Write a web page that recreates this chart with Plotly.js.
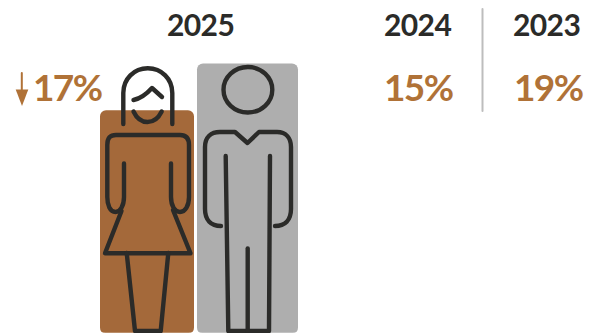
<!DOCTYPE html>
<html>
<head>
<meta charset="utf-8">
<script src="https://cdn.plot.ly/plotly-3.0.1.min.js"></script>
<style>
  html, body { margin: 0; padding: 0; background: #fff; }
  #chart { width: 600px; height: 333px; }
  .shapelayer path { stroke-linecap: round; stroke-linejoin: round; }
  .annotation-text { letter-spacing: -0.6px; }
  .annotation-text[style*="37px"] { letter-spacing: -1.6px; }
</style>
</head>
<body>
<div id="chart"></div>
<script>
// Pay index for 2025: men = 100, women about 17% lower
const groups = ['Women', 'Men'];
const payIndex = [82.6, 100];
const barCenters = [147, 247.5];
const barWidths = [94, 101];
const barColors = ['#A4693A', '#AEAEAE'];

// Gap by year
const years = ['2025', '2024', '2023'];
const gapLabels = ['17%', '15%', '19%'];
const yearX = [200, 417.5, 546.5];
const gapX = [67, 418.5, 548.5];

const INK = '#2B2B29';
const ACCENT = '#B07237';

// Figure outlines on a 600x333 grid (overlay axes x / y2)
const outline = d => ({
  type: 'path', xref: 'x', yref: 'y2', path: d, layer: 'above',
  line: { color: INK, width: 4.4 }, fillcolor: 'rgba(0,0,0,0)'
});
const solid = (d, color) => ({
  type: 'path', xref: 'x', yref: 'y2', path: d, layer: 'above',
  line: { width: 0 }, fillcolor: color
});

const womanPaths = [
  'M123.3 124 V93 C123.3 79 134 68.3 147.8 68.3 C161.6 68.3 172.3 79 172.3 93 V124',
  'M133.5 100 Q143 98 152 88 L162 97',
  'M133.5 111.5 C137 119 142 122 147.5 122 C153 122 158 119 161.7 111.5',
  'M124 163.5 V197 C124 206 120 212 115.5 212 C110 212 107.3 205 107.3 197 V145 C107.3 138 110 135 116 135 H180 C186 135 189 138 189 145 V197 C189 206 185 212 180 212 C175 212 171 206 171 197 V163.5',
  'M121.5 211 L105 253.3 H190.5 L173 210',
  'M126.7 253 L135 331 H160.7 L168.3 253'
];
const manPaths = [
  'M221 226 C211 226 205 220 205 209 V147 C205 137 211 132 220 132 H235 L247.5 143 L259 132 H277 C286 132 291 138 291 147 V209 C291 220 285 226 275 226',
  'M225.7 156 L228.3 331 H269 L270 156',
  'M247.7 248.5 V331'
];
// White notches that round the lower bar corners
const cornerMasks = [
  'M100 333.5 V327.5 Q100 333 105.5 333 V333.5 Z',
  'M194 333.5 V327.5 Q194 333 188.5 333 V333.5 Z',
  'M197 333.5 V327.5 Q197 333 202.5 333 V333.5 Z',
  'M298 333.5 V327.5 Q298 333 292.5 333 V333.5 Z'
];

const shapes = [
  ...cornerMasks.map(d => solid(d, '#FFFFFF')),
  ...womanPaths.map(outline),
  ...manPaths.map(outline),
  // Head of the male figure
  { type: 'circle', xref: 'x', yref: 'y2', x0: 223.5, x1: 272.3, y0: 67, y1: 112.5, layer: 'above',
    line: { color: INK, width: 4.4 }, fillcolor: 'rgba(0,0,0,0)' },
  // Down arrow beside the 2025 gap
  { type: 'line', xref: 'x', yref: 'y2', x0: 21.8, x1: 21.8, y0: 73, y1: 92, layer: 'above',
    line: { color: ACCENT, width: 2 } },
  solid('M15.7 89.5 H28.3 L22 106 Z', ACCENT),
  // Divider between 2024 and 2023
  { type: 'line', xref: 'x', yref: 'y2', x0: 482.5, x1: 482.5, y0: 9, y1: 111, layer: 'above',
    line: { color: '#BDBDBD', width: 2 } }
];

const labelFont = 'Lato, "Open Sans", sans-serif';
const annotations = [
  ...years.map((t, i) => ({
    text: t, x: yearX[i], y: 24, xref: 'x', yref: 'y2', showarrow: false,
    xanchor: 'center', yanchor: 'middle',
    font: { family: labelFont, size: 30, color: INK, weight: 700 }
  })),
  ...gapLabels.map((t, i) => ({
    text: t, x: gapX[i], y: 86, xref: 'x', yref: 'y2', showarrow: false,
    xanchor: 'center', yanchor: 'middle',
    font: { family: labelFont, size: 37, color: ACCENT, weight: 700 }
  }))
];

const data = [{
  type: 'bar',
  name: 'Pay index',
  x: barCenters,
  y: payIndex,
  width: barWidths,
  text: groups,
  textposition: 'none',
  hoverinfo: 'text+y',
  marker: { color: barColors, cornerradius: 6, line: { width: 0 } }
}];

const layout = {
  width: 600,
  height: 333,
  margin: { l: 0, r: 0, t: 0, b: 0 },
  paper_bgcolor: '#FFFFFF',
  plot_bgcolor: '#FFFFFF',
  showlegend: false,
  xaxis: { range: [0, 600], visible: false, fixedrange: true },
  yaxis: { range: [-0.11, 123.59], visible: false, fixedrange: true },
  yaxis2: { range: [333, 0], overlaying: 'y', visible: false, fixedrange: true },
  shapes,
  annotations
};

Plotly.newPlot('chart', data, layout, { displayModeBar: false, staticPlot: true });
</script>
</body>
</html>
